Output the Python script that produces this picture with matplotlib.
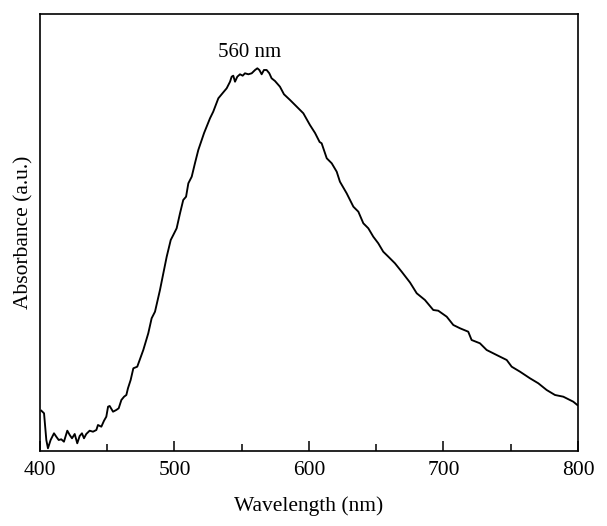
import numpy as np
import matplotlib
matplotlib.use("Agg")
import matplotlib.pyplot as plt

# spectrum (wavelength in nm, absorbance in a.u.)
wavelength = [
    401.0, 403.0, 404.7, 405.9, 407.9, 410.4, 412.1, 413.9, 415.8, 417.8,
    420.3, 422.1, 423.8, 425.8, 427.7, 429.5, 431.2, 432.7, 434.4, 436.9,
    439.4, 441.9, 443.1, 445.6, 447.6, 449.3, 450.6, 451.8, 454.3, 456.7,
    458.5, 460.5, 462.5, 464.2, 465.4, 467.4, 469.4, 472.3, 476.8, 480.5,
    483.0, 485.5, 489.2, 491.7, 494.2, 497.2, 499.1, 501.6, 504.1, 506.5,
    508.6, 510.3, 512.8, 515.2, 517.7, 522.0, 526.4, 528.8, 532.6, 536.3,
    538.8, 541.3, 542.5, 543.7, 545.0, 546.7, 548.7, 550.7, 552.4, 554.9,
    557.4, 559.9, 561.6, 563.1, 564.8, 566.5, 568.5, 570.5, 572.2, 574.7,
    578.4, 581.4, 585.9, 590.9, 595.8, 600.7, 604.5, 607.9, 609.4, 613.2,
    616.9, 620.6, 623.0, 628.0, 633.0, 636.7, 640.4, 644.1, 647.8, 651.5,
    655.2, 659.0, 663.9, 668.9, 675.1, 680.1, 686.2, 692.4, 696.1, 702.4,
    707.3, 712.3, 718.4, 720.9, 727.1, 732.1, 739.5, 747.0, 750.7, 756.9,
    764.3, 770.5, 776.7, 782.9, 789.1, 796.5, 799.5,
]
absorbance = [
    0.403, 0.377, 0.110, 0.027, 0.110, 0.177, 0.143, 0.110, 0.117, 0.093,
    0.203, 0.160, 0.127, 0.170, 0.077, 0.150, 0.177, 0.127, 0.170, 0.203,
    0.193, 0.210, 0.260, 0.243, 0.303, 0.343, 0.443, 0.450, 0.393, 0.410,
    0.427, 0.510, 0.543, 0.560, 0.627, 0.710, 0.827, 0.843, 1.010, 1.177,
    1.327, 1.393, 1.610, 1.777, 1.943, 2.110, 2.160, 2.227, 2.377, 2.510,
    2.543, 2.677, 2.743, 2.877, 3.010, 3.180, 3.327, 3.393, 3.527, 3.587,
    3.627, 3.693, 3.743, 3.753, 3.693, 3.743, 3.767, 3.753, 3.777, 3.767,
    3.777, 3.810, 3.827, 3.810, 3.767, 3.810, 3.810, 3.777, 3.727, 3.700,
    3.643, 3.567, 3.510, 3.443, 3.377, 3.260, 3.180, 3.090, 3.077, 2.927,
    2.877, 2.793, 2.693, 2.577, 2.443, 2.393, 2.277, 2.227, 2.143, 2.077,
    1.993, 1.943, 1.877, 1.793, 1.685, 1.577, 1.510, 1.410, 1.403, 1.343,
    1.260, 1.227, 1.193, 1.110, 1.077, 1.010, 0.960, 0.910, 0.843, 0.793,
    0.727, 0.677, 0.610, 0.560, 0.543, 0.493, 0.460,
]
peak_label = "560 nm"
peak_pos = (556, 3.98)

plt.rcParams["font.family"] = ["Liberation Serif", "DejaVu Serif"]

fig = plt.figure(figsize=(6.07, 5.26), dpi=100)
ax = fig.add_axes([0.0659, 0.1426, 0.8863, 0.8308])

ax.plot(wavelength, absorbance, color="black", lw=1.35)
ax.text(peak_pos[0], peak_pos[1], peak_label, ha="center", va="center", fontsize=15)

ax.set_xlim(400, 800)
ax.set_ylim(0, 4.37)
ax.set_xticks(np.arange(400, 801, 100))
ax.set_xticks(np.arange(450, 800, 100), minor=True)
ax.set_yticks([])
ax.tick_params(axis="x", which="both", direction="in", width=1.1, labelsize=15.5, pad=7)
ax.tick_params(axis="x", which="major", length=7)
ax.tick_params(axis="x", which="minor", length=5)
for s in ax.spines.values():
    s.set_linewidth(1.2)

ax.set_xlabel("Wavelength (nm)", fontsize=15.5, labelpad=12)
ax.set_ylabel("Absorbance (a.u.)", fontsize=15.5, labelpad=5)

fig.savefig("out.png", dpi=100)
